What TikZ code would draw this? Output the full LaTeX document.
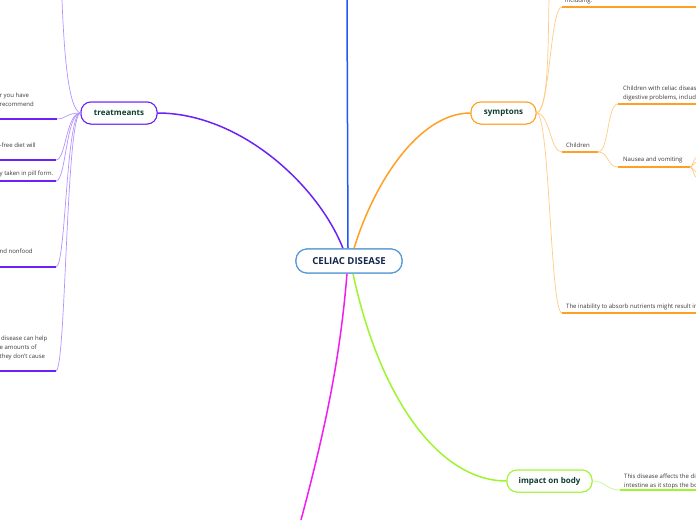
\documentclass[tikz,border=0pt]{standalone}
\usepackage{fontspec}
\setmainfont{Open Sans}
\definecolor{cblue}{HTML}{2257F0}
\definecolor{cpurple}{HTML}{6A22F5}
\definecolor{cpurplel}{HTML}{B594FF}
\definecolor{corange}{HTML}{FFA022}
\definecolor{corangel}{HTML}{FFCB85}
\definecolor{cgreen}{HTML}{9CF52E}
\definecolor{cgreenl}{HTML}{C5FA8A}
\definecolor{cmag}{HTML}{F21CF2}
\definecolor{cring}{HTML}{5B9BD5}
\definecolor{ctext}{HTML}{0F3D30}
\definecolor{cnavy}{HTML}{15284A}
\definecolor{cgray}{HTML}{3A3A3A}
\begin{document}
\begin{tikzpicture}[x=1pt,y=-1pt,
  mainbox/.style={draw=cring,line width=1.2pt,rounded corners=11pt,fill=white,
    minimum width=106pt,minimum height=24pt,inner sep=0pt,
    font=\fontsize{9.6}{10}\selectfont\bfseries,text=cnavy},
  topicbox/.style={line width=1pt,rounded corners=10pt,fill=white,
    minimum height=22pt,inner sep=0pt,
    font=\fontsize{8}{9}\selectfont\bfseries,text=ctext},
  leaf/.style={anchor=base west,inner sep=0pt,text=cgray,
    font=\fontsize{6}{7}\selectfont},
  mainline/.style={line width=1.5pt},
  thin/.style={line width=0.7pt},
  bar/.style={line width=1.5pt}]
\useasboundingbox (0,0) rectangle (696,520);
\clip (0,0) rectangle (696,520);
\fill[white] (0,0) rectangle (696,520);

% nodes
\node[mainbox] (c) at (349,261) {CELIAC DISEASE};
\node[topicbox,draw=cpurple,minimum width=76pt] (t) at (119,113) {treatmeants};
\node[topicbox,draw=corange,minimum width=65pt] (s) at (503.5,113) {symptons};
\node[topicbox,draw=cgreen,minimum width=85pt] (i) at (549.5,481) {impact on body};

% free end coordinates
\coordinate (btop) at (347,0);
\coordinate (mbot) at (301,520);
\coordinate (ttop) at (62,0);
\coordinate (stop) at (549,0);

% main branches
\draw[mainline,cblue] ([xshift=-1pt]c.north) -- (btop);
\draw[mainline,cpurple] ([xshift=-6pt]c.north) .. controls (318,185) and (240,113) .. (t.east);
\draw[mainline,corange] ([xshift=5pt]c.north) .. controls (375,180) and (420,113) .. (s.west);
\draw[mainline,cgreen] ([xshift=4pt]c.south) .. controls (380,400) and (440,481) .. (i.west);
\draw[mainline,cmag] ([xshift=-2pt]c.south) .. controls (340,360) and (325,430) .. (mbot);

% redraw nodes on top of the branch ends
\node[mainbox] at (349,261) {CELIAC DISEASE};
\node[topicbox,draw=cpurple,minimum width=76pt] at (119,113) {treatmeants};
\node[topicbox,draw=corange,minimum width=65pt] at (503.5,113) {symptons};
\node[topicbox,draw=cgreen,minimum width=85pt] at (549.5,481) {impact on body};

% ---------- treatments children ----------
\coordinate (t1) at (57,119);
\coordinate (t2) at (56,160);
\coordinate (t3) at (56,181);
\coordinate (t4) at (56,267);
\coordinate (t5) at (56,371);
\draw[thin,cpurplel] (t.west) .. controls (68,110) and (64,50) .. (ttop);
\foreach \p in {t1,t2,t3,t4,t5}{
  \draw[thin,cpurplel] (t.west) .. controls (66,113) and (66,113 |- \p) .. (\p);
}
\draw[bar,cpurple] (0,119) -- (t1);
\draw[bar,cpurple] (0,160) -- (t2);
\draw[bar,cpurple] (0,181) -- (t3);
\draw[bar,cpurple] (0,267) -- (t4);
\draw[bar,cpurple] (0,371) -- (t5);
\node[leaf] (l1a) at (-0.5,97) {r you have};
\node[leaf] (l1b) at (-0.5,106) {recommend};
\node[leaf] (l2) at (-0.5,147) {-free diet will};
\node[leaf] (l3) at (-0.5,175) {y taken in pill form.};
\node[leaf] (l4) at (-0.5,253) {nd nonfood};
\node[leaf] (l5a) at (1,340) {disease can help};
\node[leaf] (l5b) at (-0.5,349) {e amounts of};
\node[leaf] (l5c) at (-0.5,358) {they don't cause};

% ---------- symptoms children ----------
\coordinate (s1) at (562,7);
\coordinate (s2) at (562,152);
\coordinate (s2e) at (598,152);
\coordinate (s3) at (562,313);
\draw[thin,corangel] (s.east) .. controls (549,110) and (548,40) .. (stop);
\foreach \p in {s1,s2,s3}{
  \draw[thin,corangel] (s.east) .. controls (550,113) and (550,113 |- \p) .. (\p);
}
\draw[bar,corange] (s1) -- (696,7);
\draw[bar,corange] (s2) -- (s2e);
\draw[bar,corange] (s3) -- (696,313);
\node[leaf] (inc) at (565,2.5) {including.};
\node[leaf] (ch) at (566,147) {Children};
\node[leaf] (inab) at (566,308) {The inability to absorb nutrients might result in};

\coordinate (c1) at (618,104);
\coordinate (c2) at (618,167);
\coordinate (c2e) at (690,167);
\draw[thin,corangel] (s2e) .. controls (609,152) and (607,104) .. (c1);
\draw[thin,corangel] (s2e) .. controls (609,152) and (607,167) .. (c2);
\draw[bar,corange] (c1) -- (696,104);
\draw[bar,corange] (c2) -- (c2e);
\node[leaf] (cw1) at (623,90) {Children with celiac diseas};
\node[leaf] (cw2) at (623,99) {digestive problems, includi};
\node[leaf] (nv) at (623,161) {Nausea and vomiting};
\foreach \yy in {157,162,172,178}{
  \draw[thin,corangel] (c2e) .. controls (693,167) and (694,\yy) .. (697,\yy);
}

% ---------- impact children ----------
\coordinate (g1) at (620,490);
\draw[thin,cgreenl] (i.east) .. controls (606,481) and (606,490) .. (g1);
\draw[bar,cgreen] (g1) -- (696,490);
\node[leaf] (ia) at (624,478) {This disease affects the di};
\node[leaf] (ib) at (624,487) {intestine as it stops the bo};
\end{tikzpicture}
\end{document}
